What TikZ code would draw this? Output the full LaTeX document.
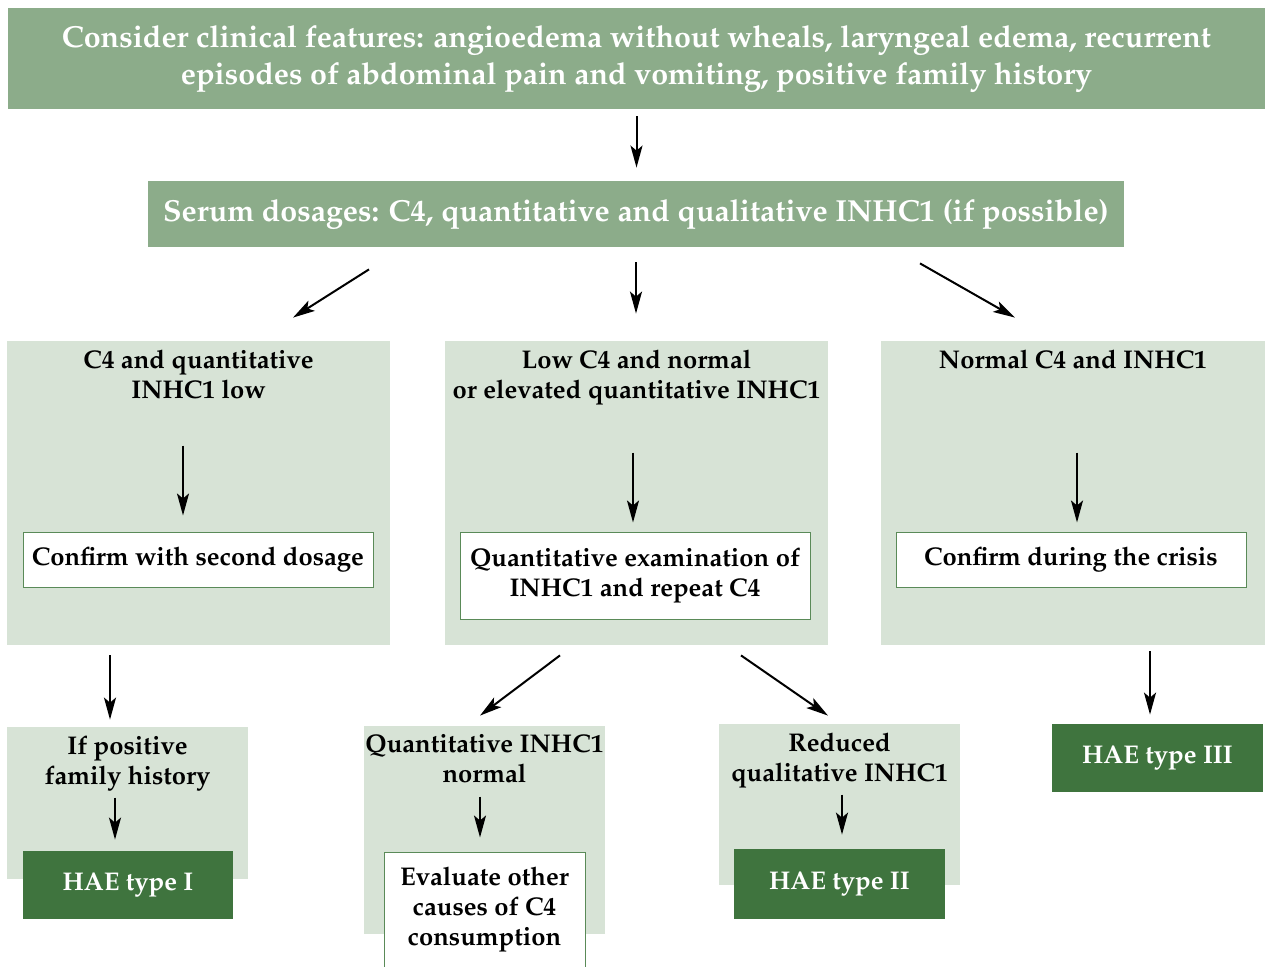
\documentclass[tikz,border=0pt]{standalone}
\usepackage[T1]{fontenc}
\usepackage{mathpazo}
\usepackage{tikz}
\usetikzlibrary{
  arrows.meta,
  positioning
}
\definecolor{haeMid}{HTML}{8CAC8A}
\definecolor{haeLight}{HTML}{D7E3D6}
\definecolor{haeDark}{HTML}{3F743E}
\definecolor{haeLine}{HTML}{5A8A58}
\tikzset{
  haenode/.style={
    inner sep=0pt, align=center, font=\fontsize{12.8}{15}\selectfont\bfseries
  },
  header/.style={haenode, fill=haeMid, text=white, font=\fontsize{15.2}{18.5}\selectfont\bfseries},
  panel/.style={haenode, fill=haeLight},
  checkbox/.style={haenode, fill=white, draw=haeLine, line width=0.5pt},
  result/.style={haenode, fill=haeDark, text=white},
  ptitle/.style={haenode, anchor=north, yshift=-4.5pt},
  arr/.style={-{Stealth[length=11pt, width=6pt, inset=2.5pt]}, line width=1pt, black}
}

\begin{document}
\begin{tikzpicture}[x=0.5pt, y=-0.5pt]
  \useasboundingbox (0,0) rectangle (1267,967);
  \clip (0,0) rectangle (1267,967);
  % headers
  \node[header, minimum width=628.5pt, minimum height=50.5pt] (top) at (636.5,58.5)
    {Consider clinical features: angioedema without wheals, laryngeal edema, recurrent\\
     episodes of abdominal pain and vomiting, positive family history};
  \node[header, minimum width=488pt, minimum height=33pt] (serum) at (636,214)
    {Serum dosages: C4, quantitative and qualitative INHC1 (if possible)};
  % first level panels
  \node[panel, minimum width=191.5pt, minimum height=152pt,
    label={[ptitle]north:{C4 and quantitative\\INHC1 low}}] (pL) at (198.5,493) {};
  \node[panel, minimum width=191.5pt, minimum height=152pt,
    label={[ptitle]north:{Low C4 and normal\\or elevated quantitative INHC1}}] (pM) at (636.5,493) {};
  \node[panel, minimum width=192pt, minimum height=152pt,
    label={[ptitle]north:{Normal C4 and INHC1}}] (pR) at (1073,493) {};
  \node[checkbox, minimum width=175pt, minimum height=27.5pt] (cL) at (198,559.5) {Confirm with second dosage};
  \node[checkbox, minimum width=175pt, minimum height=43.5pt] (cM) at (635,575.5)
    {Quantitative examination of\\INHC1 and repeat C4};
  \node[checkbox, minimum width=175pt, minimum height=27.5pt] (cR) at (1071,559.5) {Confirm during the crisis};
  % second level panels
  \node[panel, minimum width=120.5pt, minimum height=76pt,
    label={[ptitle]north:{If positive\\family history}}] (fL) at (127.5,803) {};
  \node[result, minimum width=105pt, minimum height=34pt] (tI) at (128,885) {HAE type I};
  \node[panel, minimum width=120.5pt, minimum height=104pt,
    label={[ptitle]north:{Quantitative INHC1\\normal}}] (qN) at (484.5,830) {};
  \node[checkbox, minimum width=100.5pt, minimum height=61.5pt,
    label={[ptitle, yshift=-3pt]north:{Evaluate other\\causes of C4\\consumption}}] (ev) at (484.5,913.5) {};
  \node[panel, minimum width=120.5pt, minimum height=80.5pt,
    label={[ptitle]north:{Reduced\\qualitative INHC1}}] (rQ) at (839.5,804.5) {};
  \node[result, minimum width=105.5pt, minimum height=35pt] (tII) at (839.5,884) {HAE type II};
  \node[result, minimum width=105.5pt, minimum height=34pt] (tIII) at (1157.5,758) {HAE type III};
  % arrows
  \draw[arr, shorten <=3.5pt, shorten >=6.5pt] (top.south) -- (top.south |- serum.north);
  \draw[arr] ([shift={(-267,22)}]serum.south) -- ([shift={(94.5,-23)}]pL.north);
  \draw[arr, shorten <=7.5pt, shorten >=13.5pt] (serum.south) -- (serum.south |- pM.north);
  \draw[arr] ([shift={(284,16)}]serum.south) -- ([shift={(-58,-23)}]pR.north);
  \draw[arr] ([shift={(-15,-86)}]cL.north) -- ([shift={(-15,-16)}]cL.north);
  \draw[arr] ([shift={(-2,-79)}]cM.north) -- ([shift={(-2,-9)}]cM.north);
  \draw[arr] ([shift={(6,-79)}]cR.north) -- ([shift={(6,-9)}]cR.north);
  \draw[arr] ([shift={(-88.5,10)}]pL.south) -- ([shift={(-17.5,-7)}]fL.north);
  \draw[arr] ([shift={(-13,-53)}]tI.north) -- ([shift={(-13,-11)}]tI.north);
  \draw[arr] ([shift={(-76.5,10)}]pM.south) -- ([shift={(-4.5,-10)}]qN.north);
  \draw[arr] ([shift={(-4.5,-55)}]ev.north) -- ([shift={(-4.5,-14)}]ev.north);
  \draw[arr] ([shift={(104.5,10)}]pM.south) -- ([shift={(-11.5,-8)}]rQ.north);
  \draw[arr] ([shift={(2.5,-54)}]tII.north) -- ([shift={(2.5,-14)}]tII.north);
  \draw[arr] ([shift={(77,6)}]pR.south) -- ([shift={(-7.5,-9)}]tIII.north);
\end{tikzpicture}
\end{document}
